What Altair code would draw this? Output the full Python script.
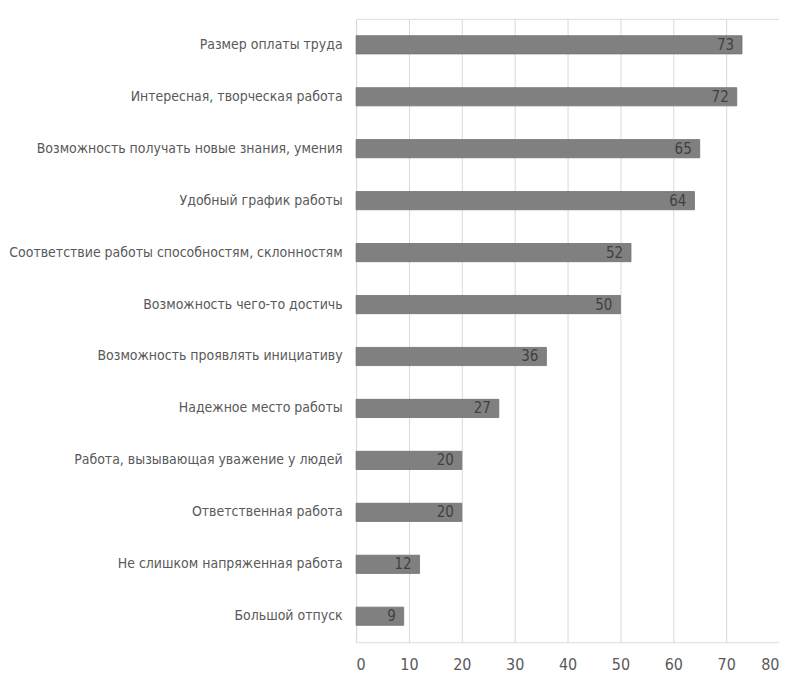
import altair as alt
import pandas as pd

categories = [
    "Размер оплаты труда",
    "Интересная, творческая работа",
    "Возможность получать новые знания, умения",
    "Удобный график работы",
    "Соответствие работы способностям, склонностям",
    "Возможность чего-то достичь",
    "Возможность проявлять инициативу",
    "Надежное место работы",
    "Работа, вызывающая уважение у людей",
    "Ответственная работа",
    "Не слишком напряженная работа",
    "Большой отпуск",
]
values = [73, 72, 65, 64, 52, 50, 36, 27, 20, 20, 12, 9]
x_ticks = [0, 10, 20, 30, 40, 50, 60, 70, 80]

df = pd.DataFrame({"cat": categories, "val": values})

FONT = "DejaVu Sans Condensed, Liberation Sans, sans-serif"
FS = 14

y = alt.Y("cat:N", sort=categories, title=None,
          scale=alt.Scale(paddingInner=0.65, paddingOuter=0.325),
          axis=alt.Axis(labelFont=FONT, labelFontSize=FS, labelColor="#595959",
                        labelPadding=14, ticks=False, domain=False, grid=False,
                        labelLimit=400))
x = alt.X("val:Q", title=None,
          scale=alt.Scale(domain=[0, 80], nice=False),
          axis=alt.Axis(values=x_ticks, labelFont=FONT, labelFontSize=16,
                        labelColor="#595959", labelPadding=14, ticks=False,
                        domain=False, gridColor="#d9d9d9", gridWidth=1))

bars = alt.Chart(df).mark_bar(color="#808080", stroke="#707070", strokeWidth=0.8).encode(x=x, y=y)
labels = alt.Chart(df).mark_text(align="right", baseline="middle", dx=-8,
                                 font=FONT, fontSize=15, color="#404040").encode(
    x="val:Q", y=alt.Y("cat:N", sort=categories), text="val:Q")

chart = (bars + labels).properties(
    width=424, height=625,
    padding={"left": 0, "top": 10, "right": 0, "bottom": 0},
).configure_view(stroke="#d9d9d9", strokeWidth=1).configure(background="white")

chart.save("out.html", embed_options={"renderer": "svg", "actions": False})
